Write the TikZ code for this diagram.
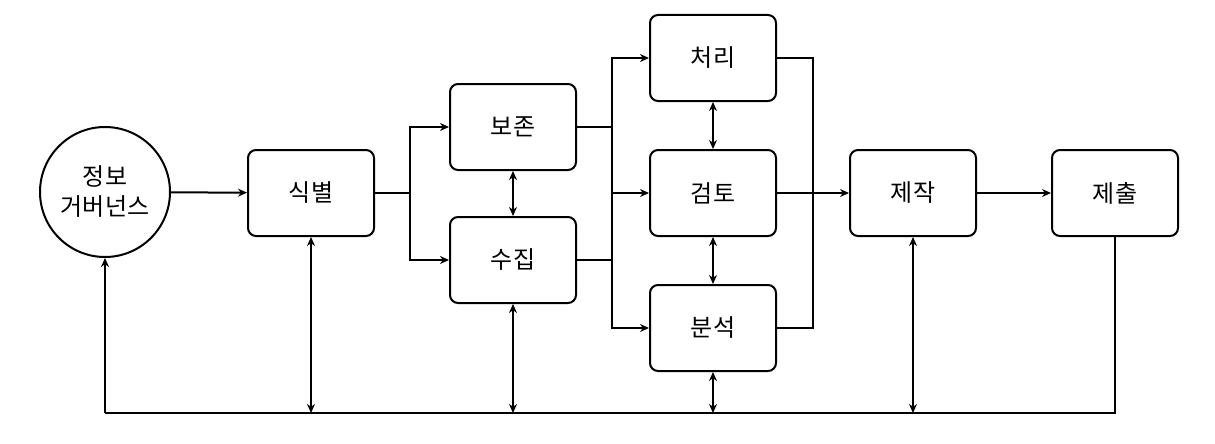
\documentclass[tikz,border=0pt]{standalone}
\usepackage{fontspec}
\setmainfont{Noto Sans CJK KR}
\usetikzlibrary{arrows.meta}
\begin{document}
\begin{tikzpicture}[x=1pt,y=-1pt,
  box/.style={draw,line width=2pt,rounded corners=8pt,minimum width=126pt,minimum height=86pt,font=\fontsize{24}{28}\selectfont},
  con/.style={line width=2pt,-{Stealth[length=9pt,width=8pt]}},
  dbl/.style={line width=2pt,{Stealth[length=9pt,width=8pt]}-{Stealth[length=9pt,width=8pt]}},
  ln/.style={line width=2pt}]
\useasboundingbox (0,0) rectangle (1215,444);
\node[draw,circle,line width=2pt,minimum size=130pt,align=center,font=\fontsize{24}{30}\selectfont] (ig) at (105,192) {정보\\거버넌스};
\node[box] (id) at (311,193) {식별};
\node[box] (pr) at (513,127) {보존};
\node[box] (co) at (513,260) {수집};
\node[box] (pc) at (713,58) {처리};
\node[box] (rv) at (713,193) {검토};
\node[box] (an) at (713,328) {분석};
\node[box] (pd) at (913,193) {제작};
\node[box] (ps) at (1115,193) {제출};
\coordinate (s1) at (410,193);
\coordinate (s2) at (612,193);
\coordinate (s3) at (813,193);
\coordinate (b0) at (105,413);
\coordinate (b1) at (1115,413);
\draw[con] (ig) -- (id);
\draw[ln] (id.east) -- (s1);
\draw[con] (s1) |- (pr.west);
\draw[con] (s1) |- (co.west);
\draw[ln] (pr.east) -| (s2);
\draw[ln] (co.east) -| (s2);
\draw[con] (s2) |- (pc.west);
\draw[con] (s2) -- (rv.west);
\draw[con] (s2) |- (an.west);
\draw[ln] (pc.east) -| (s3);
\draw[ln] (an.east) -| (s3);
\draw[con] (rv.east) -- (pd.west);
\draw[con] (pd) -- (ps);
\draw[dbl] (pr) -- (co);
\draw[dbl] (pc) -- (rv);
\draw[dbl] (rv) -- (an);
\draw[ln] (ps.south) -- (b1) -- (b0);
\draw[con] (b0) -- (ig.south);
\draw[dbl] (id.south) -- (id.south |- b0);
\draw[dbl] (co.south) -- (co.south |- b0);
\draw[dbl] (an.south) -- (an.south |- b0);
\draw[dbl] (pd.south) -- (pd.south |- b0);
\end{tikzpicture}
\end{document}
